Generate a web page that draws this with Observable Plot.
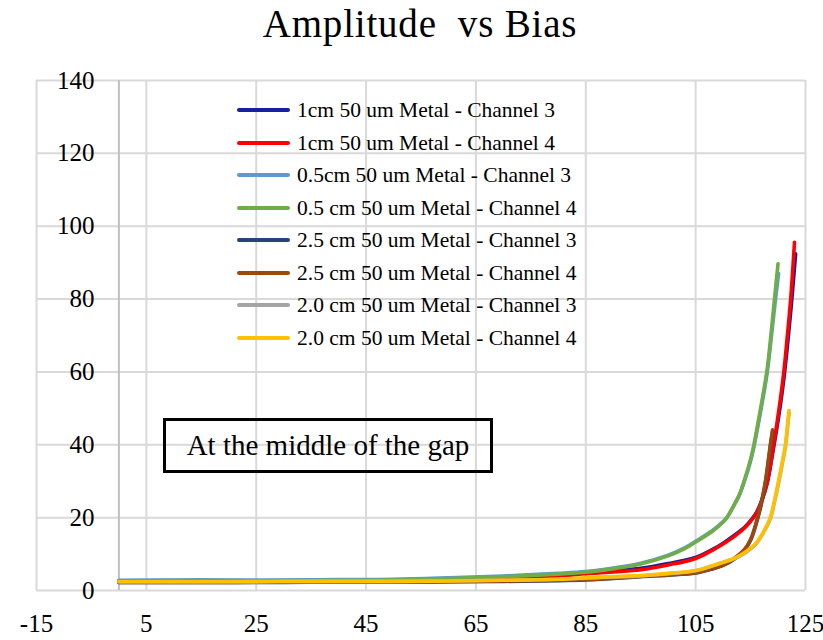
<!DOCTYPE html>
<html>
<head>
<meta charset="utf-8">
<script src="https://cdn.jsdelivr.net/npm/d3@7"></script>
<script src="https://cdn.jsdelivr.net/npm/@observablehq/plot@0.6"></script>
<style>
  html, body { margin: 0; padding: 0; background: #fff; overflow: hidden; }
  #wrap { position: relative; width: 823px; height: 640px; font-family: "Liberation Serif", "Times New Roman", serif; color: #000; }
  #title { position: absolute; left: 20px; top: 4px; width: 800px; text-align: center; font-size: 39px; line-height: 39px; white-space: pre; letter-spacing: 0.8px; }
  #legend { position: absolute; left: 236px; top: 94px; }
  .row { position: absolute; left: 0; height: 32px; white-space: nowrap; font-size: 21.5px; }
  .row .sw { position: absolute; left: 1px; width: 53px; height: 4px; border-radius: 2px; }
  .row .lb { position: absolute; left: 61px; top: 0; line-height: 32px; }
  #note { position: absolute; left: 163px; top: 418px; width: 330px; height: 55px; box-sizing: border-box; border: 3px solid #000; text-align: center; font-size: 29px; line-height: 49px; white-space: nowrap; }
  #chart svg text { font-family: "Liberation Serif", "Times New Roman", serif; }
</style>
</head>
<body>
<div id="wrap">
  <div id="title">Amplitude  vs Bias</div>
  <div id="chart"></div>
  <div id="legend"></div>
  <div id="note">At the middle of the gap</div>
</div>
<script>
// ---- Data ----
const seriesNames = [
  "1cm 50 um Metal - Channel 3",
  "1cm 50 um Metal - Channel 4",
  "0.5cm 50 um Metal - Channel 3",
  "0.5 cm 50 um Metal - Channel 4",
  "2.5 cm 50 um Metal - Channel 3",
  "2.5 cm 50 um Metal - Channel 4",
  "2.0 cm 50 um Metal - Channel 3",
  "2.0 cm 50 um Metal - Channel 4"
];
const seriesColors = ["#16209c", "#ff0000", "#5b9bd5", "#70ad47", "#264478", "#9e480e", "#a5a5a5", "#ffc000"];

const xTicks = [-15, 5, 25, 45, 65, 85, 105, 125];
const yTicks = [0, 20, 40, 60, 80, 100, 120, 140];

// 1 cm
const bias1cmCh3 = [0, 10, 20, 30, 40, 50, 60, 70, 80, 85, 90, 95, 100, 105, 108, 110, 112, 114, 115, 116, 117, 118, 119.2, 120.2, 121.05, 121.7, 122.4, 123.2];
const amp1cmCh3  = [2.6, 2.6, 2.6, 2.7, 2.7, 2.8, 3.1, 3.6, 4.3, 4.9, 5.5, 6.1, 7.4, 9.1, 11.2, 13.0, 15.1, 17.5, 19.2, 21.2, 24.6, 29.3, 39.3, 48.5, 58, 67, 78, 92.4];
const bias1cmCh4 = [0, 10, 20, 30, 40, 50, 60, 70, 80, 85, 90, 95, 100, 105, 108, 110, 112, 114, 115, 116, 117, 118, 119.2, 120.2, 121.05, 121.7, 122.3, 123];
const amp1cmCh4  = [2.5, 2.5, 2.5, 2.6, 2.6, 2.7, 3.0, 3.4, 4.0, 4.6, 5.1, 5.7, 7.0, 8.8, 11.0, 12.8, 14.8, 17.3, 19.0, 21.0, 24.5, 29.5, 40, 50, 60, 70, 80, 95.6];
// 0.5 cm
const bias05Ch3 = [0, 10, 20, 30, 40, 50, 60, 70, 80, 85, 90, 95, 100, 103, 105, 108, 110, 110.7, 112, 113, 113.8, 115, 115.6, 117, 118, 118.7, 119.4, 120.1];
const amp05Ch3  = [2.8, 2.9, 2.9, 2.9, 3.0, 3.1, 3.5, 4.0, 4.7, 5.2, 6.2, 7.5, 9.7, 11.7, 13.5, 16.4, 18.9, 20.1, 23.4, 26.3, 29.6, 35.5, 39.3, 50.5, 59.5, 68.5, 78, 87];
const bias05Ch4 = [0, 10, 20, 30, 40, 50, 60, 70, 80, 85, 90, 95, 100, 103, 105, 108, 110, 110.7, 112, 113, 113.8, 115, 115.6, 117, 118, 118.7, 119.35, 120];
const amp05Ch4  = [2.6, 2.7, 2.7, 2.7, 2.8, 2.9, 3.3, 3.8, 4.5, 5.0, 6.0, 7.3, 9.5, 11.5, 13.3, 16.2, 18.8, 20.0, 23.5, 26.5, 30, 36, 40, 51.5, 60.5, 70, 80, 89.7];
// 2.5 cm
const bias25Ch3 = [0, 10, 20, 30, 40, 50, 60, 70, 80, 85, 90, 95, 100, 105, 108, 110, 112, 114, 115, 116, 117, 117.7, 118.3, 118.6, 119];
const amp25Ch3  = [2.2, 2.2, 2.2, 2.2, 2.3, 2.3, 2.4, 2.5, 2.7, 2.9, 3.3, 3.8, 4.2, 4.8, 5.9, 6.9, 8.6, 11.3, 13.8, 18.2, 24.0, 29.5, 36, 39.5, 43.5];
const bias25Ch4 = [0, 10, 20, 30, 40, 50, 60, 70, 80, 85, 90, 95, 100, 105, 108, 110, 112, 114, 115, 116, 117, 117.7, 118.3, 118.6, 119];
const amp25Ch4  = [2.2, 2.2, 2.2, 2.3, 2.3, 2.3, 2.4, 2.6, 2.8, 3.0, 3.4, 3.9, 4.3, 4.9, 6.0, 7.0, 8.8, 11.5, 14.0, 18.5, 24.5, 30, 36.5, 40, 44.1];
// 2.0 cm
const bias20Ch3 = [0, 10, 20, 30, 40, 50, 60, 70, 80, 85, 90, 95, 100, 105, 108, 110, 112, 114, 116, 117.5, 118.6, 119.4, 120.1, 120.8, 121.35, 121.7, 122];
const amp20Ch3  = [2.4, 2.4, 2.4, 2.5, 2.5, 2.5, 2.6, 2.8, 3.1, 3.4, 3.7, 4.0, 4.6, 5.4, 6.7, 7.7, 8.7, 10.3, 12.8, 16.3, 19.7, 24.6, 29.5, 35, 39.5, 44.3, 48.8];
const bias20Ch4 = [0, 10, 20, 30, 40, 50, 60, 70, 80, 85, 90, 95, 100, 105, 108, 110, 112, 114, 116, 117.5, 118.6, 119.4, 120.1, 120.8, 121.35, 121.7, 122];
const amp20Ch4  = [2.4, 2.4, 2.4, 2.5, 2.5, 2.5, 2.6, 2.8, 3.1, 3.5, 3.8, 4.1, 4.7, 5.5, 6.8, 7.8, 8.8, 10.5, 13.0, 16.5, 20, 25, 30, 35.5, 40, 45, 49.4];

const seriesX = [bias1cmCh3, bias1cmCh4, bias05Ch3, bias05Ch4, bias25Ch3, bias25Ch4, bias20Ch3, bias20Ch4];
const seriesY = [amp1cmCh3, amp1cmCh4, amp05Ch3, amp05Ch4, amp25Ch3, amp25Ch4, amp20Ch3, amp20Ch4];

// ---- Build ----
const FONT = "'Liberation Serif', 'Times New Roman', serif";
const lineMarks = seriesNames.map((name, i) => {
  const rows = seriesX[i].map((x, j) => ({x, y: seriesY[i][j]}));
  return Plot.line(rows, {
    x: "x", y: "y", stroke: seriesColors[i], strokeWidth: 3.6,
    curve: "catmull-rom", strokeLinecap: "round", strokeLinejoin: "round"
  });
});

const chart = Plot.plot({
  width: 823,
  height: 640,
  marginLeft: 36,
  marginRight: 18,
  marginTop: 80,
  marginBottom: 50,
  style: {background: "transparent", overflow: "visible", fontFamily: FONT},
  x: {domain: [-15, 125], axis: null},
  y: {domain: [0, 140], axis: null},
  marks: [
    Plot.ruleX(xTicks, {stroke: "#d9d9d9", strokeWidth: 2, strokeOpacity: 1}),
    Plot.ruleY(yTicks, {stroke: "#d9d9d9", strokeWidth: 2, strokeOpacity: 1}),
    Plot.ruleX([0], {stroke: "#bfbfbf", strokeWidth: 2, strokeOpacity: 1}),
    ...lineMarks,
    Plot.text(yTicks, {x: () => 0, y: d => d, text: d => String(d), textAnchor: "end", dx: -24.5,
      fontSize: 25, fontFamily: FONT, fill: "#000"}),
    Plot.text(xTicks, {x: d => d, y: () => 0, text: d => String(d), textAnchor: "middle", dy: 33.5,
      fontSize: 25, fontFamily: FONT, fill: "#000"})
  ]
});
document.getElementById("chart").appendChild(chart);

// Legend
const legend = document.getElementById("legend");
seriesNames.forEach((name, i) => {
  const row = document.createElement("div");
  row.className = "row";
  row.style.top = (i * 32.5) + "px";
  const sw = document.createElement("span");
  sw.className = "sw";
  sw.style.background = seriesColors[i];
  sw.style.top = "14px";
  const lb = document.createElement("span");
  lb.className = "lb";
  lb.textContent = name;
  row.appendChild(sw);
  row.appendChild(lb);
  legend.appendChild(row);
});
</script>
</body>
</html>
